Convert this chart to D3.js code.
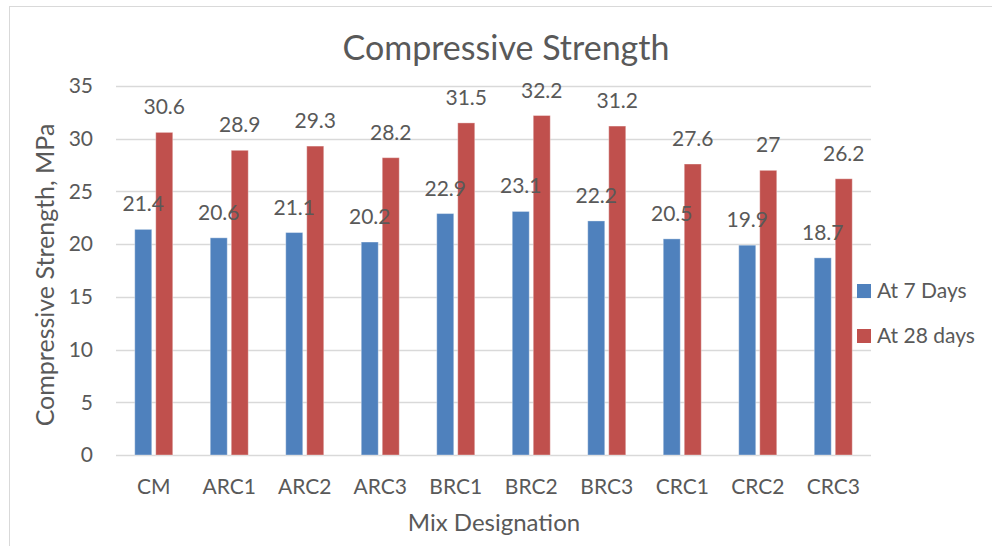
<!DOCTYPE html>
<html>
<head>
<meta charset="utf-8">
<script src="https://cdn.jsdelivr.net/npm/d3@7"></script>
<style>
  body { margin: 0; background: #fff; }
  text { font-family: Lato, "Open Sans", sans-serif; fill: #595959; }
</style>
</head>
<body>
<div id="chart"></div>
<script>
const categories = ["CM", "ARC1", "ARC2", "ARC3", "BRC1", "BRC2", "BRC3", "CRC1", "CRC2", "CRC3"];
const seriesNames = ["At 7 Days", "At 28 days"];
const days7 = [21.4, 20.6, 21.1, 20.2, 22.9, 23.1, 22.2, 20.5, 19.9, 18.7];
const days28 = [30.6, 28.9, 29.3, 28.2, 31.5, 32.2, 31.2, 27.6, 27, 26.2];
const yTicks = [0, 5, 10, 15, 20, 25, 30, 35];
const colors = ["#4F81BD", "#C0504D"];

const width = 992, height = 546;
const margin = {top: 86, right: 121, bottom: 91, left: 116};

const svg = d3.select("#chart")
  .append("svg")
  .attr("width", width)
  .attr("height", height);

// outer frame
svg.append("rect")
  .attr("x", 9.5).attr("y", 6.5)
  .attr("width", 1000).attr("height", 600)
  .attr("fill", "none")
  .attr("stroke", "#D9D9D9");

const x = d3.scaleBand()
  .domain(categories)
  .range([margin.left, width - margin.right]);

const xInner = d3.scaleBand()
  .domain(seriesNames)
  .range([0, 38])
  .paddingInner(4 / 21);

const y = d3.scaleLinear()
  .domain([0, 35])
  .range([height - margin.bottom, margin.top]);

// gridlines
svg.append("g")
  .selectAll("line")
  .data(yTicks)
  .join("line")
  .attr("x1", margin.left)
  .attr("x2", width - margin.right)
  .attr("y1", d => Math.round(y(d)) + 0.5)
  .attr("y2", d => Math.round(y(d)) + 0.5)
  .attr("stroke", "#D9D9D9")
  .attr("stroke-width", 1.5);

// y tick labels
svg.append("g")
  .selectAll("text")
  .data(yTicks)
  .join("text")
  .attr("x", 93)
  .attr("y", d => y(d))
  .attr("dy", "0.35em")
  .attr("text-anchor", "end")
  .style("font-size", "21px")
  .text(d => d);

// x tick labels
svg.append("g")
  .selectAll("text")
  .data(categories)
  .join("text")
  .attr("x", d => x(d) + x.bandwidth() / 2)
  .attr("y", 494)
  .attr("text-anchor", "middle")
  .style("font-size", "21px")
  .text(d => d);

const rows = categories.map((c, i) => ({cat: c, values: [days7[i], days28[i]]}));

const groups = svg.append("g")
  .selectAll("g")
  .data(rows)
  .join("g")
  .attr("transform", d => `translate(${x(d.cat) + x.bandwidth() / 2 - 19},0)`);

groups.selectAll("rect")
  .data(d => d.values.map((v, j) => ({name: seriesNames[j], value: v, j: j})))
  .join("rect")
  .attr("x", d => xInner(d.name))
  .attr("width", xInner.bandwidth())
  .attr("y", d => y(d.value))
  .attr("height", d => y(0) - y(d.value))
  .attr("fill", d => colors[d.j])
  .attr("stroke", "#fff")
  .attr("stroke-opacity", 0.35)
  .attr("stroke-width", 1);

groups.selectAll("text")
  .data(d => d.values.map((v, j) => ({name: seriesNames[j], value: v, j: j})))
  .join("text")
  .attr("x", d => xInner(d.name) + xInner.bandwidth() / 2)
  .attr("y", d => y(d.value) - 18)
  .attr("text-anchor", "middle")
  .style("font-size", "21px")
  .text(d => d.value);

// title
svg.append("text")
  .attr("x", 506)
  .attr("y", 60)
  .attr("text-anchor", "middle")
  .style("font-size", "34px")
  .text("Compressive Strength");

// axis titles
svg.append("text")
  .attr("transform", "translate(54,275) rotate(-90)")
  .attr("text-anchor", "middle")
  .style("font-size", "25px")
  .text("Compressive Strength, MPa");

svg.append("text")
  .attr("x", 494)
  .attr("y", 531)
  .attr("text-anchor", "middle")
  .style("font-size", "24px")
  .text("Mix Designation");

// legend
const legend = svg.append("g")
  .selectAll("g")
  .data(seriesNames)
  .join("g")
  .attr("transform", (d, i) => `translate(857,${284 + i * 45})`);

legend.append("rect")
  .attr("width", 14)
  .attr("height", 14)
  .attr("fill", (d, i) => colors[i]);

legend.append("text")
  .attr("x", 20)
  .attr("y", 7)
  .attr("dy", "0.35em")
  .style("font-size", "21px")
  .text(d => d);
</script>
</body>
</html>
